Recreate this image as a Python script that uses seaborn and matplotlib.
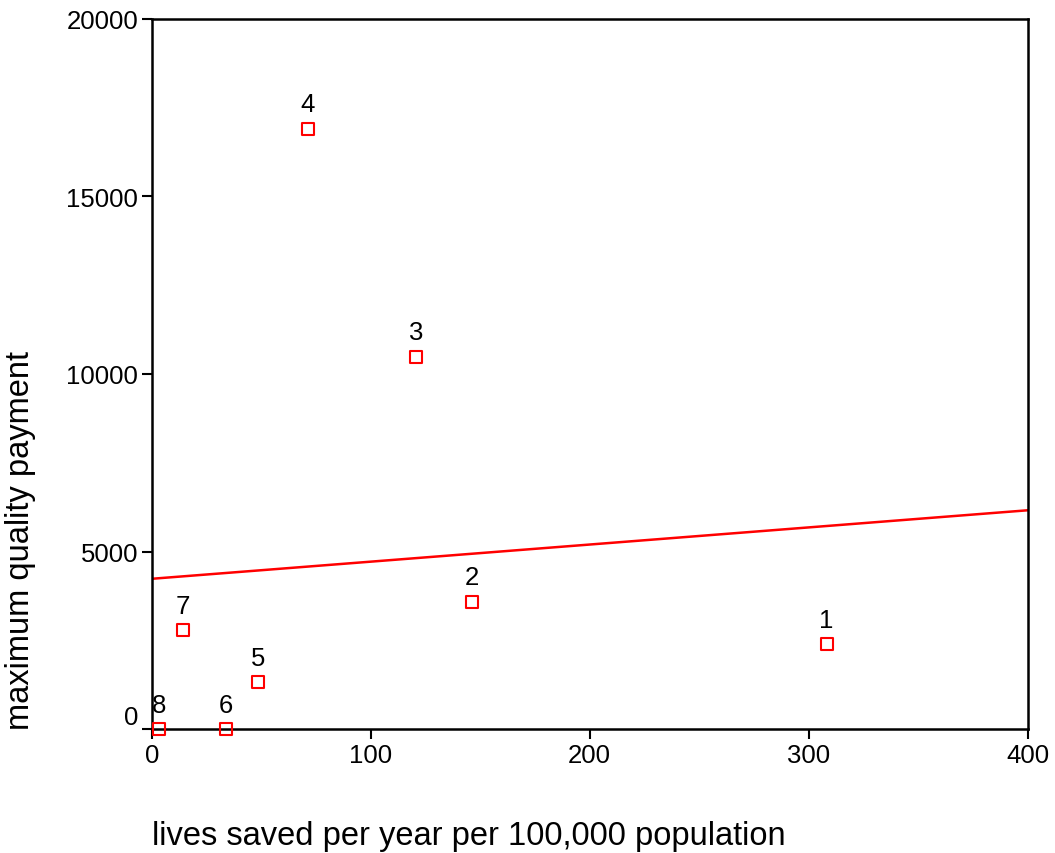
import numpy as np
import pandas as pd
import matplotlib
matplotlib.use("Agg")
import matplotlib.pyplot as plt
import seaborn as sns

# values
case_ids = ["1", "2", "3", "4", "5", "6", "7", "8"]
lives_saved = [308.2, 146.1, 120.5, 71.2, 48.4, 33.8, 14.2, 3.2]
max_payment = [2390, 3580, 10480, 16900, 1320, 0, 2790, 0]

x_ticks = [0, 100, 200, 300, 400]
y_ticks = [0, 5000, 10000, 15000, 20000]

df = pd.DataFrame({"case": case_ids, "lives": lives_saved, "payment": max_payment})

sns.set_style("white")
plt.rcParams["font.family"] = ["Liberation Sans", "DejaVu Sans"]
plt.rcParams["text.color"] = "black"
plt.rcParams["axes.labelcolor"] = "black"

fig = plt.figure(figsize=(10.55, 8.54), dpi=100)
ax = fig.add_axes([0.144, 0.145, 0.830, 0.832])
ax.set_xlim(0, 400)
ax.set_ylim(0, 20000)

# fitted line across the full x range
sns.regplot(x="lives", y="payment", data=df, scatter=False, ci=None,
            truncate=False, color="#ff0000", line_kws={"linewidth": 1.8}, ax=ax)

sns.scatterplot(x="lives", y="payment", data=df, marker="s", s=72,
                facecolor="none", edgecolor="#ff0000", linewidth=1.5,
                ax=ax, zorder=3, clip_on=False)

for _, row in df.iterrows():
    ax.annotate(row["case"], (row["lives"], row["payment"]),
                xytext=(0, 9), textcoords="offset points",
                ha="center", va="bottom", fontsize=18.5, color="black")

ax.set_xticks(x_ticks)
ax.set_yticks(y_ticks)
ax.tick_params(axis="both", direction="out", length=7, width=1.5,
               labelsize=18.5, colors="black", pad=3)
ax.tick_params(left=True, bottom=True)
ax.get_yticklabels()[0].set_va("bottom")

for side in ["left", "right", "top", "bottom"]:
    ax.spines[side].set_visible(True)
    ax.spines[side].set_color("black")
    ax.spines[side].set_linewidth(1.8)

ax.set_xlabel("lives saved per year per 100,000 population", fontsize=23.5,
              loc="left", labelpad=38)
ax.set_ylabel("maximum quality payment", fontsize=23.5, loc="bottom", labelpad=22)

fig.savefig("out.png", dpi=100)
